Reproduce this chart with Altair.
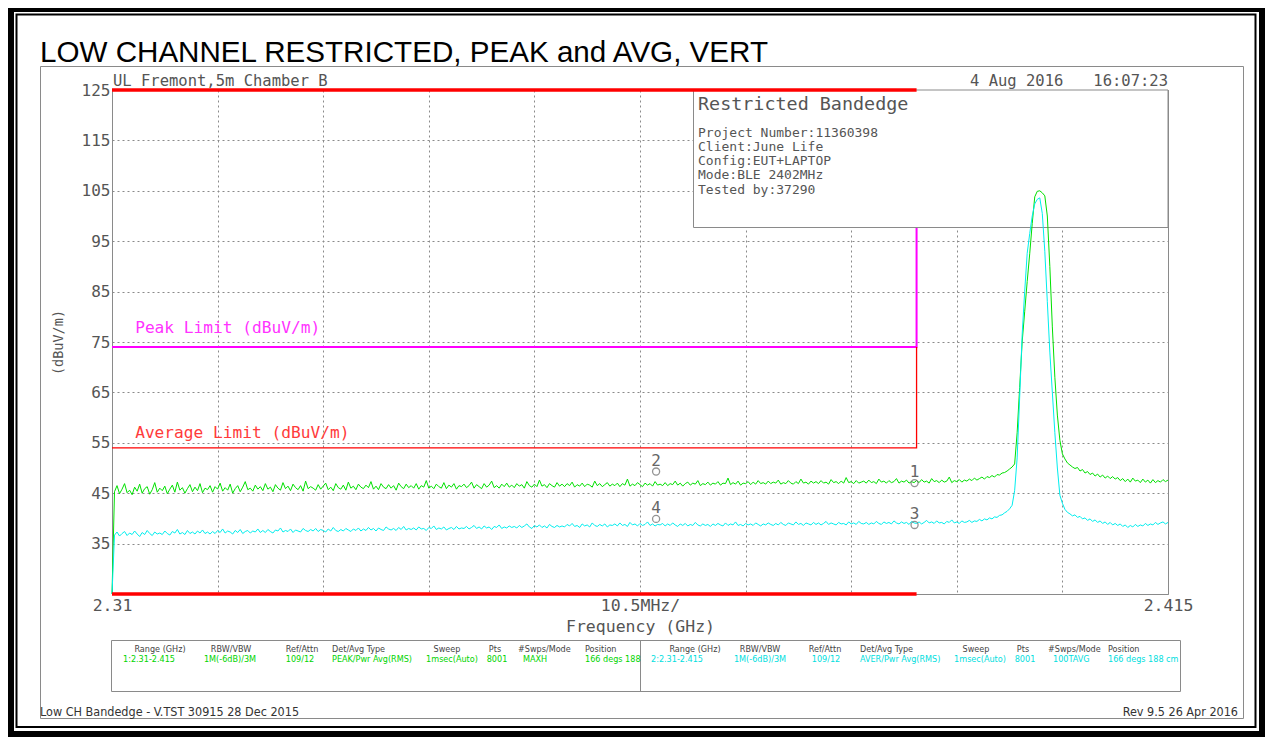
import altair as alt
import pandas as pd

# ---------------- data ----------------
FREQ_START = 2.31          # GHz
FREQ_STEP = 0.00025        # 0.25 MHz reading grid

# Trace 1 : PEAK (MAXH), dBuV/m
peak_trace = [
    25.0, 45.3, 46.5, 44.9, 45.8, 46.9, 45.1, 45.6, 44.7, 46.2, 45.4, 46.8, 45.0, 45.9, 46.3, 44.8, 45.7, 47.1, 45.2, 46.0,
    45.5, 46.4, 44.9, 45.8, 46.6, 45.2, 47.2, 45.6, 46.1, 45.0, 45.9, 46.7, 45.3, 46.2, 45.5, 46.9, 45.1, 46.0, 45.7, 46.5,
    45.2, 46.3, 45.8, 47.0, 45.4, 46.1, 45.6, 46.8, 45.0, 45.9, 46.5, 45.3, 46.2, 47.3, 45.7, 46.0, 45.4, 46.6, 45.8, 46.3,
    45.5, 46.9, 45.8, 46.2, 45.3, 46.7, 46.0, 45.6, 47.1, 45.9, 46.4, 45.5, 46.8, 46.1, 45.7, 46.5, 45.4, 47.4, 45.9, 46.3,
    46.0, 45.6, 46.7, 45.8, 46.4, 47.0, 45.7, 46.2, 45.5, 46.9, 46.1, 45.8, 46.6, 45.6, 47.2, 46.0, 46.4, 45.7, 46.8, 46.2,
    45.9, 46.6, 46.1, 47.3, 45.8, 46.4, 45.7, 46.9, 46.2, 45.9, 46.7, 46.0, 46.5, 45.6, 47.0, 46.3, 45.9, 46.8, 46.1, 46.5,
    46.0, 46.9, 45.8, 46.5, 46.2, 47.5, 46.0, 46.4, 45.9, 46.8, 46.3, 46.0, 47.1, 45.9, 46.6, 46.2, 46.9, 45.8, 46.5, 46.3,
    46.8, 46.1, 46.5, 47.2, 46.0, 46.7, 46.3, 45.9, 46.9, 46.2, 46.6, 47.4, 46.1, 46.5, 46.0, 46.8, 46.3, 47.0, 46.2, 46.6,
    46.1, 46.9, 46.4, 46.7, 46.0, 47.3, 46.5, 46.2, 46.8, 46.3, 47.6, 46.4, 46.7, 46.1, 46.9, 46.5, 46.2, 47.1, 46.4, 46.8,
    46.3, 46.9, 46.5, 47.2, 46.2, 46.7, 46.4, 47.0, 46.3, 46.8, 46.6, 46.2, 47.4, 46.5, 46.9, 46.3, 46.7, 47.1, 46.4, 46.8,
    46.5, 47.0, 46.3, 46.9, 46.6, 47.8, 46.4, 46.8, 46.5, 47.1, 46.7, 46.3, 47.0, 46.6, 46.9, 46.4, 47.3, 46.6, 46.8, 46.5,
    47.1, 46.5, 46.9, 46.7, 47.4, 46.6, 47.0, 46.4, 46.9, 47.2, 46.6, 47.0, 46.8, 47.5, 46.5, 46.9, 46.7, 47.2, 46.6, 47.0,
    46.8, 47.3, 46.6, 47.0, 46.9, 48.0, 46.7, 47.1, 46.8, 47.4, 46.6, 47.0, 46.9, 47.3, 46.7, 47.2, 46.8, 47.5, 46.9, 47.1,
    46.8, 47.4, 46.9, 47.2, 47.0, 47.6, 46.8, 47.1, 46.9, 47.5, 47.0, 46.8, 47.3, 46.9, 47.8, 47.0, 47.2, 46.8, 47.4, 47.0,
    47.3, 46.9, 47.5, 47.0, 47.2, 46.8, 47.7, 47.1, 47.3, 46.9, 47.4, 47.0, 48.1, 47.1, 47.3, 46.9, 47.5, 47.0, 47.2, 47.4,
    47.0, 47.6, 47.1, 47.3, 46.9, 47.8, 47.2, 47.4, 47.0, 47.5, 47.1, 47.3, 47.9, 47.0, 47.4, 47.2, 47.6, 47.0, 47.3, 47.1,
    47.5, 47.1, 47.7, 47.2, 47.4, 47.0, 47.9, 47.3, 47.5, 47.1, 47.6, 47.2, 47.4, 48.2, 47.1, 47.5, 47.3, 47.7, 47.2, 47.6,
    47.4, 47.8, 47.5, 48.0, 47.6, 47.9, 48.2, 47.8, 48.3, 48.1, 48.5, 48.2, 48.7, 48.6, 49.0, 49.1, 49.4, 49.8, 50.2, 50.8,
    57.0, 66.0, 75.0, 81.0, 87.0, 92.5, 98.5, 103.8, 104.9, 105.0, 104.6, 104.0, 100.0, 90.0, 78.0, 68.0, 60.5, 55.5, 52.8, 51.8,
    51.0, 50.6, 50.2, 49.9, 50.1, 49.4, 49.7, 49.0, 49.3, 48.7, 49.0, 48.4, 48.8, 48.2, 48.6, 48.0, 48.4, 47.9, 48.3, 47.8,
    48.1, 47.5, 47.9, 47.3, 47.8, 47.2, 48.0, 47.4, 47.6, 47.1, 47.8, 47.2, 47.6, 47.0, 47.7, 47.1, 47.5, 47.2, 47.7, 47.3, 47.6,
]

# Trace 2 : AVERAGE (RMS), dBuV/m
avg_trace = [
    25.0, 36.7, 37.3, 36.5, 37.0, 37.4, 36.6, 37.1, 36.8, 37.5, 36.9, 36.4, 37.2, 36.8, 37.6, 37.0, 36.6, 37.3, 36.9, 37.1,
    36.8, 37.5, 37.0, 36.7, 37.4, 37.1, 37.8, 36.9, 37.2, 36.8, 37.6, 37.0, 37.3, 36.9, 37.5, 37.1, 37.7, 37.0, 37.3, 36.9,
    37.4, 37.0, 37.6, 37.2, 37.9, 37.1, 37.5, 37.3, 36.9, 37.6, 37.2, 37.8, 37.0, 37.4, 37.6, 37.1, 37.5, 37.3, 37.9, 37.2,
    37.6, 37.2, 37.8, 37.4, 37.1, 37.7, 37.5, 38.1, 37.3, 37.6, 37.4, 37.9, 37.2, 37.7, 37.5, 37.3, 38.0, 37.6, 37.4, 37.8,
    37.5, 38.0, 37.4, 37.8, 37.6, 37.3, 37.9, 37.5, 38.2, 37.6, 37.4, 37.8, 37.5, 38.0, 37.7, 37.4, 37.9, 37.6, 38.1, 37.5,
    37.9, 37.6, 38.2, 37.7, 38.0, 37.5, 38.1, 37.8, 37.6, 38.3, 37.9, 37.7, 38.0, 37.6, 38.2, 37.8, 38.4, 37.7, 38.0, 37.8,
    38.1, 37.7, 38.3, 37.9, 38.0, 37.6, 38.2, 38.0, 38.5, 37.8, 38.1, 37.9, 38.3, 37.7, 38.0, 38.2, 37.8, 38.4, 37.9, 38.1,
    38.0, 38.4, 37.9, 38.2, 38.6, 38.0, 38.3, 37.9, 38.5, 38.1, 38.3, 37.8, 38.4, 38.2, 38.7, 38.0, 38.3, 38.1, 38.5, 38.2,
    38.4, 38.1, 38.6, 38.2, 38.5, 38.9, 38.3, 38.0, 38.6, 38.3, 38.7, 38.2, 38.5, 38.1, 38.8, 38.4, 38.2, 38.6, 38.3, 38.5,
    38.3, 38.8, 38.5, 39.0, 38.4, 38.6, 38.2, 38.9, 38.5, 38.7, 38.3, 39.1, 38.6, 38.4, 38.8, 38.5, 38.9, 38.3, 38.7, 38.6,
    38.9, 38.5, 39.1, 38.6, 38.8, 38.4, 39.2, 38.7, 38.9, 38.5, 39.0, 38.6, 38.8, 39.3, 38.6, 38.9, 38.5, 38.8, 38.7, 39.0,
    38.5, 38.9, 38.6, 39.1, 38.7, 38.4, 38.9, 38.6, 39.0, 38.5, 38.8, 38.6, 39.2, 38.7, 38.5, 38.9, 38.6, 38.8, 38.4, 38.9,
    38.6, 39.0, 38.7, 38.5, 39.1, 38.6, 38.9, 38.7, 39.3, 38.6, 38.8, 38.5, 39.0, 38.7, 38.9, 38.6, 39.1, 38.8, 38.5, 38.9,
    38.7, 39.1, 38.8, 38.6, 39.0, 38.7, 39.2, 38.8, 38.6, 39.1, 38.9, 38.7, 39.3, 38.8, 39.0, 38.6, 39.1, 38.9, 38.7, 39.2,
    38.8, 39.1, 38.7, 39.0, 39.4, 38.8, 39.1, 38.9, 38.7, 39.2, 38.9, 39.0, 38.7, 39.3, 38.9, 39.1, 38.8, 39.4, 39.0, 38.9,
    39.2, 38.8, 39.1, 38.9, 39.4, 39.0, 38.8, 39.3, 39.0, 39.2, 38.9, 39.5, 39.1, 38.9, 39.3, 39.0, 39.2, 38.8, 39.4, 39.1,
    39.0, 39.3, 38.9, 39.2, 39.6, 39.1, 39.3, 39.0, 39.5, 39.1, 39.2, 38.9, 39.4, 39.2, 39.7, 39.1, 39.3, 39.0, 39.5, 39.2,
    39.3, 39.6, 39.2, 39.5, 39.4, 39.8, 39.5, 39.9, 39.7, 40.1, 39.9, 40.3, 40.2, 40.6, 40.7, 41.1, 41.4, 41.9, 42.6, 45.5,
    52.0, 64.0, 76.5, 85.0, 92.6, 96.5, 100.0, 102.4, 103.3, 103.6, 100.5, 93.0, 83.0, 73.0, 65.0, 57.0, 50.0, 44.6, 43.0, 41.8,
    41.2, 40.9, 40.5, 40.7, 40.2, 40.4, 39.9, 40.1, 39.6, 39.9, 39.4, 39.7, 39.2, 39.5, 39.0, 39.3, 38.8, 39.2, 38.7, 39.0,
    38.6, 38.9, 38.4, 38.7, 38.2, 38.6, 38.3, 38.8, 38.4, 38.7, 38.5, 39.0, 38.6, 38.9, 38.7, 39.2, 38.8, 39.1, 39.3, 38.9, 39.2,
]

# axis ticks
grid_freqs = [2.31, 2.3205, 2.331, 2.3415, 2.352, 2.3625, 2.373, 2.3835, 2.394, 2.4045, 2.415]
x_label_values = [2.31, 2.3625, 2.415]
x_label_texts = ["2.31", "10.5MHz/", "2.415"]
level_ticks = [25, 35, 45, 55, 65, 75, 85, 95, 105, 115, 125]

# limit lines
peak_limit_f = [2.31, 2.39, 2.39]
peak_limit_v = [74, 74, 125]
avg_limit_f = [2.31, 2.39, 2.39]
avg_limit_v = [54, 54, 74]
band_f = [2.31, 2.39]
band_top_v = [125, 125]
band_bottom_v = [25, 25]
peak_limit_label = ("Peak Limit (dBuV/m)", 2.3123, 77.8)
avg_limit_label = ("Average Limit (dBuV/m)", 2.3123, 56.9)

# markers
marker_ids = ["1", "2", "3", "4"]
marker_f = [2.3898, 2.3641, 2.3898, 2.3641]
marker_v = [47.0, 49.3, 38.7, 39.9]

# texts
title_text = "LOW CHANNEL RESTRICTED, PEAK and AVG, VERT"
site_text = "UL Fremont,5m Chamber B"
date_text = "4 Aug 2016"
time_text = "16:07:23"
box_title = "Restricted Bandedge"
box_lines = ["Project Number:11360398", "Client:June Life", "Config:EUT+LAPTOP",
             "Mode:BLE 2402MHz", "Tested by:37290"]
table_headers = ["Range (GHz)", "RBW/VBW", "Ref/Attn", "Det/Avg Type", "Sweep", "Pts",
                 "#Swps/Mode", "Position"]
table1_values = ["1:2.31-2.415", "1M(-6dB)/3M", "109/12", "PEAK/Pwr Avg(RMS)", "1msec(Auto)",
                 "8001", "MAXH", "166 degs 188"]
table2_values = ["2:2.31-2.415", "1M(-6dB)/3M", "109/12", "AVER/Pwr Avg(RMS)", "1msec(Auto)",
                 "8001", "100TAVG", "166 degs 188 cm"]
footer_left = "Low CH Bandedge - V.TST 30915 28 Dec 2015"
footer_right = "Rev 9.5 26 Apr 2016"

# ---------------- layout (page pixels) ----------------
OX, OY = 112, 90          # plot origin on the page
PW, PH = 1056, 504


def PX(x):
    return x - OX


def PY(y):
    return y - OY


MONO = "DejaVu Sans Mono"
NARROW = "Liberation Sans Narrow, DejaVu Sans Condensed, Arial Narrow, sans-serif"
GREY_TXT = "#555555"
GREEN = "#00e000"
CYAN = "#00eeee"

one = pd.DataFrame({"k": [0]})


def prect(x0, y0, x1, y1, **kw):
    return alt.Chart(one).mark_rect(**kw).encode(
        x=alt.value(PX(x0)), x2=alt.value(PX(x1)), y=alt.value(PY(y0)), y2=alt.value(PY(y1)))


def ptext(txt, x, y, **kw):
    return alt.Chart(one).mark_text(text=txt, **kw).encode(x=alt.value(PX(x)), y=alt.value(PY(y)))


def prule(x0, y0, x1, y1, **kw):
    return alt.Chart(one).mark_rule(**kw).encode(
        x=alt.value(PX(x0)), x2=alt.value(PX(x1)), y=alt.value(PY(y0)), y2=alt.value(PY(y1)))


x_expr = " : ".join(
    f"abs(datum.value - {v}) < 0.0001 ? '{t}'" for v, t in zip(x_label_values, x_label_texts)
) + " : ''"

X = alt.X("f:Q",
          scale=alt.Scale(domain=[2.31, 2.415], nice=False, zero=False),
          axis=alt.Axis(values=grid_freqs, grid=True, gridDash=[2, 3], gridColor="#8a8a8a",
                        gridWidth=1, ticks=False, domain=False, labelExpr=x_expr,
                        labelOverlap=False, labelFlush=False, labelFont=MONO, labelFontSize=16.5,
                        labelColor=GREY_TXT, labelPadding=3,
                        title="Frequency (GHz)", titleFont=MONO, titleFontSize=16.5,
                        titleFontWeight="normal", titleColor=GREY_TXT, titlePadding=5))
Y = alt.Y("v:Q",
          scale=alt.Scale(domain=[25, 125], nice=False, zero=False),
          axis=alt.Axis(values=level_ticks, grid=True, gridDash=[2, 3], gridColor="#8a8a8a",
                        gridWidth=1, ticks=False, domain=False,
                        labelExpr="datum.value == 25 ? '' : datum.label",
                        labelOverlap=False, labelFlush=False, labelFont=MONO, labelFontSize=16,
                        labelColor=GREY_TXT, labelPadding=2,
                        title="(dBuV/m)", titleFont=MONO, titleFontSize=13.5,
                        titleFontWeight="normal", titleColor=GREY_TXT, titlePadding=16))


def series(fs, vs):
    return pd.DataFrame({"f": fs, "v": vs, "i": list(range(len(fs)))})


freqs = [round(FREQ_START + i * FREQ_STEP, 5) for i in range(len(peak_trace))]

layers = []

# outer page frames
layers += [
    prect(8, 8, 14, 737, fill="black"),
    prect(1259, 8, 1265, 737, fill="black"),
    prect(8, 8, 1265, 12, fill="black"),
    prect(8, 731, 1265, 737, fill="black"),
    prect(16.5, 14.5, 1255.5, 727, fillOpacity=0, stroke="black", strokeWidth=2),
    prect(40.5, 66.5, 1243.5, 718.5, fillOpacity=0, stroke="#8a8a8a", strokeWidth=1),
]

# title and header line
layers += [
    ptext(title_text, 40, 62, align="left", baseline="alphabetic", font="Liberation Sans, Arial",
          fontSize=29.6, color="black"),
    ptext(site_text, 113, 86, align="left", baseline="alphabetic", font=MONO, fontSize=15.5,
          color=GREY_TXT),
    ptext(date_text, 970, 86, align="left", baseline="alphabetic", font=MONO, fontSize=15.5,
          color=GREY_TXT),
    ptext(time_text, 1168, 86, align="right", baseline="alphabetic", font=MONO, fontSize=15.5,
          color=GREY_TXT),
]

# limit lines
layers += [
    alt.Chart(series(peak_limit_f, peak_limit_v)).mark_line(color="#ff00ff", strokeWidth=2).encode(
        x=X, y=Y, order="i:Q"),
    alt.Chart(series(avg_limit_f, avg_limit_v)).mark_line(color="#ff0000", strokeWidth=1.3).encode(
        x=X, y=Y, order="i:Q"),
]

# info box
layers.append(prect(693.5, 90, 1168, 227.5, fill="white", stroke="#8a8a8a", strokeWidth=1))
layers.append(ptext(box_title, 698, 110, align="left", baseline="alphabetic", font=MONO,
                    fontSize=18.4, color=GREY_TXT))
for k, line in enumerate(box_lines):
    layers.append(ptext(line, 698, 136.5 + 14.3 * k, align="left", baseline="alphabetic",
                        font=MONO, fontSize=13, color=GREY_TXT))

# traces
layers += [
    alt.Chart(series(freqs, peak_trace)).mark_line(color=GREEN, strokeWidth=1).encode(
        x=X, y=Y, order="i:Q"),
    alt.Chart(series(freqs, avg_trace)).mark_line(color=CYAN, strokeWidth=1).encode(
        x=X, y=Y, order="i:Q"),
]

# restricted band thick lines
layers += [
    alt.Chart(series(band_f, band_top_v)).mark_line(color="#ff0000", strokeWidth=3.5).encode(
        x=X, y=Y, order="i:Q"),
    alt.Chart(series(band_f, band_bottom_v)).mark_line(color="#ff0000", strokeWidth=3.5).encode(
        x=X, y=Y, order="i:Q"),
]

# markers
mk = pd.DataFrame({"f": marker_f, "v": marker_v, "id": marker_ids})
layers += [
    alt.Chart(mk).mark_point(shape="circle", size=50, filled=False, color="#666666",
                             strokeWidth=1.3).encode(x=X, y=Y),
    alt.Chart(mk).mark_text(font=MONO, fontSize=16, color="#666666", dy=-11,
                            baseline="middle").encode(x=X, y=Y, text="id:N"),
]

# limit labels
for (txt, f, v), col in [(peak_limit_label, "#ff33ff"), (avg_limit_label, "#ff3b3b")]:
    layers.append(
        alt.Chart(pd.DataFrame({"f": [f], "v": [v], "t": [txt]})).mark_text(
            align="left", baseline="middle", font=MONO, fontSize=16.2, color=col
        ).encode(x=X, y=Y, text="t:N"))

# settings table
layers += [
    prect(111.5, 640.5, 1180.5, 691.5, fillOpacity=0, stroke="#8a8a8a", strokeWidth=1),
    prule(640.5, 640.5, 640.5, 691.5, color="#8a8a8a", strokeWidth=1),
]
# column anchors: (x, align) for headers and values in each half
hdr1 = [(160, "center"), (231, "center"), (302, "center"), (332, "left"), (447, "center"),
        (495, "center"), (518, "left"), (585, "left")]
val1 = [(149, "center"), (230, "center"), (300, "center"), (332, "left"), (452, "center"),
        (497, "center"), (523, "left"), (585, "left")]
hdr2 = [(695, "center"), (760, "center"), (825, "center"), (860, "left"), (976, "center"),
        (1023, "center"), (1048, "left"), (1108, "left")]
val2 = [(677, "center"), (760, "center"), (826, "center"), (860, "left"), (980, "center"),
        (1025, "center"), (1053, "left"), (1108, "left")]
for hdr, val, values, col in [(hdr1, val1, table1_values, "#00d400"),
                              (hdr2, val2, table2_values, "#00dede")]:
    for (hx, ha), txt in zip(hdr, table_headers):
        layers.append(ptext(txt, hx, 649, align=ha, baseline="middle", font=NARROW,
                            fontSize=9, color="#444444"))
    for (vx, va), txt in zip(val, values):
        layers.append(ptext(txt, vx, 659, align=va, baseline="middle", font=NARROW,
                            fontSize=9, color=col))

# footer
layers += [
    ptext(footer_left, 40, 712, align="left", baseline="middle", font=NARROW, fontSize=12.5,
          color="#333333"),
    ptext(footer_right, 1238, 712, align="right", baseline="middle", font=NARROW, fontSize=12.5,
          color="#333333"),
]

chart = alt.layer(*layers).properties(
    width=PW, height=PH,
    padding={"left": 104, "top": 82, "right": 97, "bottom": 143},
    autosize=alt.AutoSizeParams(type="none"),
    background="white",
).configure_view(stroke="#8a8a8a", strokeWidth=1)

chart.save("out.html", embed_options={"renderer": "svg", "actions": False})
